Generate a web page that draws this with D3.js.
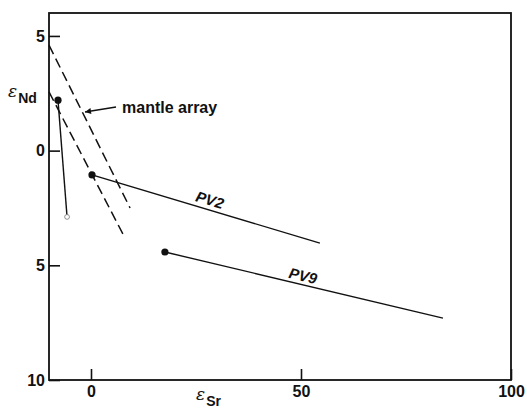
<!DOCTYPE html>
<html><head><meta charset="utf-8">
<script src="https://cdn.jsdelivr.net/npm/d3@7"></script>
<style>body{margin:0;background:#fff}svg{display:block}</style>
</head><body><svg id="c" width="527" height="409"></svg>
<script>
// data (eSr, eNd)
const mantleUpper = [[-10, 4.6], [9.3, -2.5]];
const mantleLower = [[-10, 2.56], [8.1, -3.81]];
const seriesA = [[-7.86, 2.2], [-5.7, -2.89]];   // filled -> open
const seriesPV2 = [[0.24, -1.06], [54.5, -4.03]];
const seriesPV9 = [[17.6, -4.42], [83.8, -7.3]];
const xTicks = [0, 50, 100];
const xTickLabels = ["0", "50", "100"];
const yTicks = [5, 0, -5, -10];
const yTickLabels = ["5", "0", "5", "10"];

const svg = d3.select("#c");
const x = d3.scaleLinear().domain([-10, 100]).range([49, 511]);
const y = d3.scaleLinear().domain([6, -10]).range([13, 380]);
const ink = "#111";
const line = d3.line().x(d => x(d[0])).y(d => y(d[1]));

// frame
svg.append("rect").attr("x", x(-10)).attr("y", y(6))
  .attr("width", x(100) - x(-10)).attr("height", y(-10) - y(6))
  .attr("fill", "none").attr("stroke", ink).attr("stroke-width", 1.8);

// axes (ticks inside)
const ax = svg.append("g").attr("transform", `translate(0,${y(-10)})`)
  .call(d3.axisTop(x).tickValues(xTicks).tickSize(11).tickFormat((d, i) => xTickLabels[i]));
ax.select(".domain").remove();
ax.selectAll("line").attr("stroke", ink).attr("stroke-width", 1.6);
ax.selectAll("text").attr("y", 6).attr("dy", "0.71em")
  .attr("font-family", "Liberation Sans, Arial, sans-serif").attr("font-size", 16)
  .attr("font-weight", "bold").attr("fill", ink);

const ay = svg.append("g").attr("transform", `translate(${x(-10)},0)`)
  .call(d3.axisRight(y).tickValues(yTicks).tickSize(11).tickFormat((d, i) => yTickLabels[i]));
ay.select(".domain").remove();
ay.selectAll("line").attr("stroke", ink).attr("stroke-width", 1.6);
ay.selectAll("text").attr("x", -4).attr("text-anchor", "end")
  .attr("font-family", "Liberation Sans, Arial, sans-serif").attr("font-size", 16)
  .attr("font-weight", "bold").attr("fill", ink);

// mantle array dashed
[mantleUpper, mantleLower].forEach(d => {
  svg.append("path").attr("d", line(d)).attr("fill", "none")
    .attr("stroke", ink).attr("stroke-width", 1.5).attr("stroke-dasharray", "10,5");
});

// solid series
[seriesA, seriesPV2, seriesPV9].forEach(d => {
  svg.append("path").attr("d", line(d)).attr("fill", "none")
    .attr("stroke", ink).attr("stroke-width", 1.4);
  svg.append("circle").attr("cx", x(d[0][0])).attr("cy", y(d[0][1])).attr("r", 3.6).attr("fill", ink);
});
svg.append("circle").attr("cx", x(seriesA[1][0])).attr("cy", y(seriesA[1][1])).attr("r", 2.4)
  .attr("fill", "#fff").attr("stroke", "#777").attr("stroke-width", 0.8);

// rotated labels
const seriesLabels = [
  {text: "PV2", at: [28.3, -2.15], seg: seriesPV2},
  {text: "PV9", at: [50.5, -5.46], seg: seriesPV9}
];
seriesLabels.forEach(l => {
  const a = Math.atan2(y(l.seg[1][1]) - y(l.seg[0][1]), x(l.seg[1][0]) - x(l.seg[0][0])) * 180 / Math.PI;
  svg.append("text").attr("transform", `translate(${x(l.at[0])},${y(l.at[1])}) rotate(${a})`)
    .attr("text-anchor", "middle").attr("dy", "0.35em")
    .attr("font-family", "Liberation Sans, Arial, sans-serif").attr("font-size", 15)
    .attr("font-weight", "bold").attr("font-style", "italic").attr("fill", ink).text(l.text);
});

// mantle array annotation
svg.append("defs").append("marker").attr("id", "ah").attr("viewBox", "0 0 10 10")
  .attr("refX", 10).attr("refY", 5).attr("markerWidth", 10).attr("markerHeight", 6)
  .attr("orient", "auto").attr("markerUnits", "userSpaceOnUse")
  .append("path").attr("d", "M0,0 L10,5 L0,10 Z").attr("fill", ink);
svg.append("line").attr("x1", 116).attr("y1", 107).attr("x2", 85).attr("y2", 112)
  .attr("stroke", ink).attr("stroke-width", 1.4).attr("marker-end", "url(#ah)");
svg.append("text").attr("x", 122).attr("y", 113)
  .attr("font-family", "Liberation Sans, Arial, sans-serif").attr("font-size", 16)
  .attr("font-weight", "bold").attr("fill", ink).text("mantle array");

// axis titles
const t1 = svg.append("text").attr("x", 8).attr("y", 97).attr("fill", ink)
  .attr("font-family", "DejaVu Serif, serif");
t1.append("tspan").attr("font-size", 17).attr("font-style", "italic").text("ε");
t1.append("tspan").attr("font-size", 14).attr("font-weight", "bold")
  .attr("font-family", "Liberation Sans, Arial, sans-serif").attr("dy", 6).attr("dx", 1).text("Nd");

const t2 = svg.append("text").attr("x", 196).attr("y", 400).attr("fill", ink)
  .attr("font-family", "DejaVu Serif, serif");
t2.append("tspan").attr("font-size", 17).attr("font-style", "italic").text("ε");
t2.append("tspan").attr("font-size", 14).attr("font-weight", "bold")
  .attr("font-family", "Liberation Sans, Arial, sans-serif").attr("dy", 6).attr("dx", 1).text("Sr");
</script></body></html>
